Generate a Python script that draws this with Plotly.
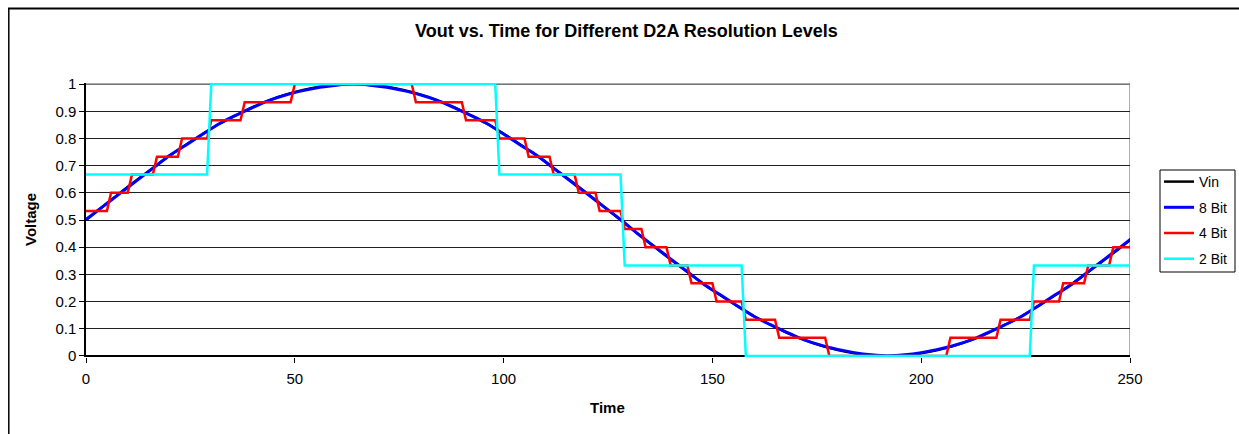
import plotly.graph_objects as go

# ---- data ----
sample_times = list(range(0, 253, 4))
vin = [0.500, 0.549, 0.598, 0.645, 0.691, 0.736, 0.778, 0.817, 0.854, 0.886,
       0.916, 0.941, 0.962, 0.978, 0.990, 0.998, 1.000, 0.998, 0.990, 0.978,
       0.962, 0.941, 0.916, 0.886, 0.854, 0.817, 0.778, 0.736, 0.691, 0.645,
       0.598, 0.549, 0.500, 0.451, 0.402, 0.355, 0.309, 0.264, 0.222, 0.183,
       0.146, 0.114, 0.084, 0.059, 0.038, 0.022, 0.010, 0.002, 0.000, 0.002,
       0.010, 0.022, 0.038, 0.059, 0.084, 0.114, 0.146, 0.183, 0.222, 0.264,
       0.309, 0.355, 0.402, 0.451]
bit8 = [0.502, 0.549, 0.596, 0.643, 0.690, 0.737, 0.776, 0.816, 0.855, 0.886,
        0.914, 0.941, 0.961, 0.976, 0.988, 0.996, 1.000, 0.996, 0.988, 0.976,
        0.961, 0.941, 0.914, 0.886, 0.855, 0.816, 0.776, 0.737, 0.690, 0.643,
        0.596, 0.549, 0.502, 0.451, 0.404, 0.357, 0.310, 0.263, 0.224, 0.184,
        0.145, 0.114, 0.086, 0.059, 0.039, 0.024, 0.012, 0.004, 0.000, 0.004,
        0.012, 0.024, 0.039, 0.059, 0.086, 0.114, 0.145, 0.184, 0.224, 0.263,
        0.310, 0.357, 0.404, 0.451]

bit4_start = [0, 6, 11, 17, 23, 30, 38, 50, 79, 91, 99, 106, 112, 118, 123,
              129, 134, 140, 145, 151, 158, 166, 178, 207, 219, 227, 234, 240, 246]
bit4_level = [0.533, 0.600, 0.667, 0.733, 0.800, 0.867, 0.933, 1.000, 0.933,
              0.867, 0.800, 0.733, 0.667, 0.600, 0.533, 0.467, 0.400, 0.333,
              0.267, 0.200, 0.133, 0.067, 0.000, 0.067, 0.133, 0.200, 0.267,
              0.333, 0.400]

bit2_start = [0, 30, 99, 129, 158, 227]
bit2_level = [0.667, 1.000, 0.667, 0.333, 0.000, 0.333]

end_time = 250
y_ticks = [0, 0.1, 0.2, 0.3, 0.4, 0.5, 0.6, 0.7, 0.8, 0.9, 1]
x_ticks = [0, 50, 100, 150, 200, 250]


def step_xy(starts, levels, end):
    xs, ys = [], []
    for i, (s, v) in enumerate(zip(starts, levels)):
        stop = starts[i + 1] - 1 if i + 1 < len(starts) else end
        xs += [s, stop]
        ys += [v, v]
    return xs, ys


x4, y4 = step_xy(bit4_start, bit4_level, end_time)
x2, y2 = step_xy(bit2_start, bit2_level, end_time)

FONT = "Arial, Liberation Sans, sans-serif"

fig = go.Figure()
fig.add_trace(go.Scatter(x=sample_times, y=vin, mode="lines", name="Vin",
                         legendgroup="a",
                         line=dict(color="black", width=2.5, shape="spline")))
fig.add_trace(go.Scatter(x=sample_times, y=bit8, mode="lines", name="8 Bit",
                         legendgroup="b",
                         line=dict(color="#0000FF", width=3, shape="spline")))
fig.add_trace(go.Scatter(x=x4, y=y4, mode="lines", name="4 Bit",
                         legendgroup="c",
                         line=dict(color="#FF0000", width=2.5)))
fig.add_trace(go.Scatter(x=x2, y=y2, mode="lines", name="2 Bit",
                         legendgroup="d",
                         line=dict(color="#00FFFF", width=2.5)))

W, H = 1239, 434
L, R, T, B = 86, W - 1130, 83, H - 357
pw, ph = W - L - R, H - T - B


def px_x(p):
    return (p - L) / pw


def px_y(p):
    return (H - B - p) / ph


fig.update_layout(
    width=W, height=H,
    margin=dict(l=L, r=R, t=T, b=B, autoexpand=False),
    paper_bgcolor="white", plot_bgcolor="white",
    font=dict(family=FONT, size=15, color="black"),
    showlegend=True,
    legend=dict(x=px_x(1159), y=px_y(166), xanchor="left", yanchor="top",
                bgcolor="rgba(0,0,0,0)", borderwidth=0,
                font=dict(family=FONT, size=14, color="black"),
                itemwidth=30, tracegroupgap=4.5, traceorder="grouped"),
    xaxis=dict(range=[0, 250], tickvals=x_ticks, ticks="outside", ticklen=5,
               tickcolor="black", showgrid=False, zeroline=False,
               showline=False, tickfont=dict(size=15), automargin=False,
               ticklabelstandoff=3),
    yaxis=dict(range=[-0.004, 1.004], tickvals=y_ticks,
               ticktext=[("%g" % v) for v in y_ticks],
               ticks="outside", ticklen=5, tickcolor="black",
               showgrid=True, gridcolor="#202020", gridwidth=1,
               zeroline=True, zerolinecolor="black", zerolinewidth=1.5,
               showline=True, linecolor="black", linewidth=1.5,
               tickfont=dict(size=15), automargin=False),
)

shapes = [
    # gray plot-area border (top & right)
    dict(type="line", xref="x", yref="y", x0=0, x1=250, y0=1, y1=1,
         line=dict(color="#909090", width=1.5), layer="between"),
    dict(type="line", xref="x", yref="paper", x0=250, x1=250, y0=0, y1=1,
         line=dict(color="#909090", width=1.5), layer="between"),
    # chart-area border
    dict(type="line", xref="paper", yref="paper", x0=px_x(8.8), x1=px_x(8.8),
         y0=px_y(8), y1=px_y(440), line=dict(color="black", width=1.5)),
    dict(type="line", xref="paper", yref="paper", x0=px_x(8), x1=px_x(1245),
         y0=px_y(8.5), y1=px_y(8.5), line=dict(color="black", width=2)),
    # legend frame
    dict(type="rect", xref="paper", yref="paper", x0=px_x(1160), x1=px_x(1235),
         y0=px_y(170), y1=px_y(272), line=dict(color="black", width=1),
         fillcolor="white", layer="below"),
]
fig.update_layout(shapes=shapes)

fig.add_annotation(text="<b>Vout vs. Time for Different D2A Resolution Levels</b>",
                   xref="paper", yref="paper", x=px_x(626), y=px_y(31),
                   showarrow=False, font=dict(family=FONT, size=18),
                   xanchor="center", yanchor="middle")
fig.add_annotation(text="<b>Voltage</b>", xref="paper", yref="paper",
                   x=px_x(30), y=px_y(220), textangle=-90, showarrow=False,
                   font=dict(family=FONT, size=15), xanchor="center",
                   yanchor="middle")
fig.add_annotation(text="<b>Time</b>", xref="paper", yref="paper",
                   x=px_x(607), y=px_y(407), showarrow=False,
                   font=dict(family=FONT, size=15), xanchor="center",
                   yanchor="middle")

fig.write_html(
    "out.html",
    config={"displayModeBar": False},
    post_script="document.body.style.margin='0';document.body.style.overflow='hidden';",
)
